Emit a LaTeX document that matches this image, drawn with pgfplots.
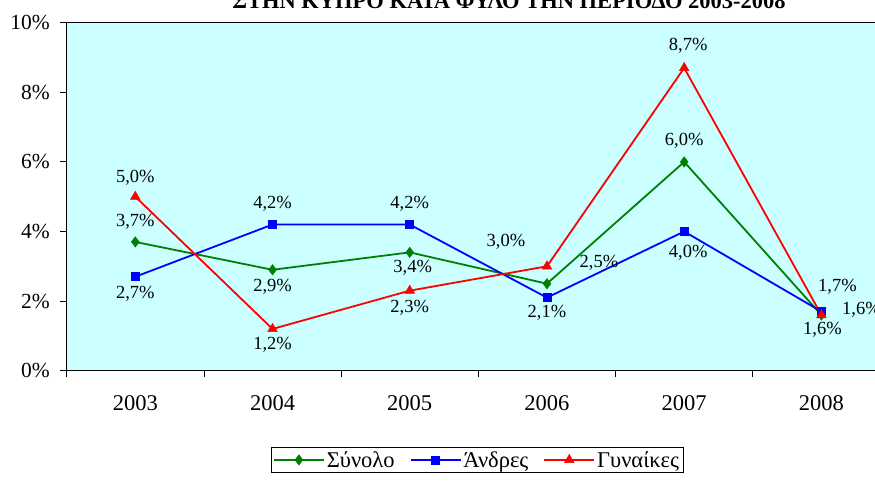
\documentclass[border=0pt]{standalone}
\usepackage{fontspec}
\setmainfont{Liberation Serif}
\usepackage{pgfplots}
\usepackage{pgfplotstable}
\pgfplotsset{compat=1.18}
\definecolor{bgcyan}{HTML}{CCFFFF}
\definecolor{sgreen}{HTML}{008000}

% x y, then label offset (pt) from the point to the label baseline
\pgfplotstableread{
x y dx dy
0 3.7 0 15.6
1 2.9 0 -21.5
2 3.4 3 -20.6
3 2.5 52 15.7
4 6.0 0 16.6
5 1.6 40 0.7
}\synolo
\pgfplotstableread{
x y dx dy
0 2.7 0 -21.3
1 4.2 0 16.5
2 4.2 0 16.5
3 2.1 0 -19.7
4 4.0 4 -26.3
5 1.7 16 20.2
}\andres
\pgfplotstableread{
x y dx dy
0 5.0 0 14.4
1 1.2 0 -20.7
2 2.3 0 -22.3
3 3.0 -41 20
4 8.7 4 17.7
5 1.6 1 -19.3
}\gynaikes

\pgfplotsset{
  lbl/.style={
    nodes near coords={\pgfmathprintnumber[fixed,fixed zerofill,precision=1,use comma]{\pgfplotspointmeta}\%},
    point meta=y,
    visualization depends on={\thisrow{dx}\as\ldx},
    visualization depends on={\thisrow{dy}\as\ldy},
    every node near coord/.append style={anchor=base, xshift=\ldx pt, yshift=\ldy pt,
      inner sep=0pt, text=black, font=\fontsize{18.5}{20}\selectfont},
  },
}

\begin{document}
\begin{tikzpicture}
\begin{axis}[
  scale only axis,
  width=823.3pt, height=348pt,
  at={(0,0)}, anchor=south west,
  xmin=-0.5, xmax=5.5,
  ymin=0, ymax=10,
  axis background/.style={fill=bgcyan},
  axis line style={black, line width=1.6pt},
  xtick={0,...,5},
  xticklabels={2003,2004,2005,2006,2007,2008},
  minor xtick={-0.5,0.5,...,5.5},
  major x tick style={draw=none},
  minor tick length=6pt,
  major tick length=6.5pt,
  tick style={black, line width=0.8pt},
  tick align=outside,
  xtick pos=bottom, ytick pos=left,
  ytick={0,2,...,10},
  yticklabel={\pgfmathprintnumber{\tick}\%},
  /pgf/number format/assume math mode=true,
  yticklabel style={font=\fontsize{21.5}{23}\selectfont, xshift=-7pt},
  xticklabel style={font=\fontsize{22.5}{24}\selectfont, yshift=-15pt},
  legend columns=3,
  legend style={at={(0.4984,-0.2193)}, anchor=north, draw=black,
    fill=white, font=\fontsize{22.5}{24}\selectfont, inner sep=2pt,
    /tikz/every even column/.append style={column sep=13pt}},
  legend image code/.code={
    \draw[#1, mark=none, line width=1.8pt] (0pt,0pt) -- (50pt,0pt);
    \draw[#1] plot[only marks] coordinates {(25pt,0pt)};},
]
\addlegendimage{sgreen, line width=1.8pt, mark=diamond*, mark size=5.2pt, mark options={solid, line width=0.5pt}}
\addlegendentry{Σύνολο}
\addlegendimage{blue, line width=1.8pt, mark=square*, mark size=4pt, mark options={solid, line width=0.5pt}}
\addlegendentry{Άνδρες}
\addlegendimage{red, line width=1.8pt, mark=triangle*, mark size=5.5pt, mark options={solid, line width=0.5pt}}
\addlegendentry{Γυναίκες}
\addplot[forget plot, sgreen, line width=1.8pt, mark=diamond*, mark size=5.2pt,
  mark options={solid, line width=0.5pt}, lbl] table[x=x, y=y] {\synolo};
\addplot[forget plot, blue, line width=1.8pt, mark=square*, mark size=4pt,
  mark options={solid, line width=0.5pt}, lbl] table[x=x, y=y] {\andres};
\addplot[forget plot, red, line width=1.8pt, mark=triangle*, mark size=5.5pt,
  mark options={solid, line width=0.5pt}, lbl] table[x=x, y=y] {\gynaikes};
\end{axis}
\node[anchor=base, font=\bfseries\fontsize{22.5}{24}\selectfont]
  at (442.3pt,361.7pt) {ΣΤΗΝ ΚΥΠΡΟ ΚΑΤΑ ΦΥΛΟ ΤΗΝ ΠΕΡΙΟΔΟ 2003-2008};
\pgfresetboundingbox
\useasboundingbox (-66.7pt,-110.3pt) rectangle (808.3pt,370.7pt);
\end{tikzpicture}
\end{document}
